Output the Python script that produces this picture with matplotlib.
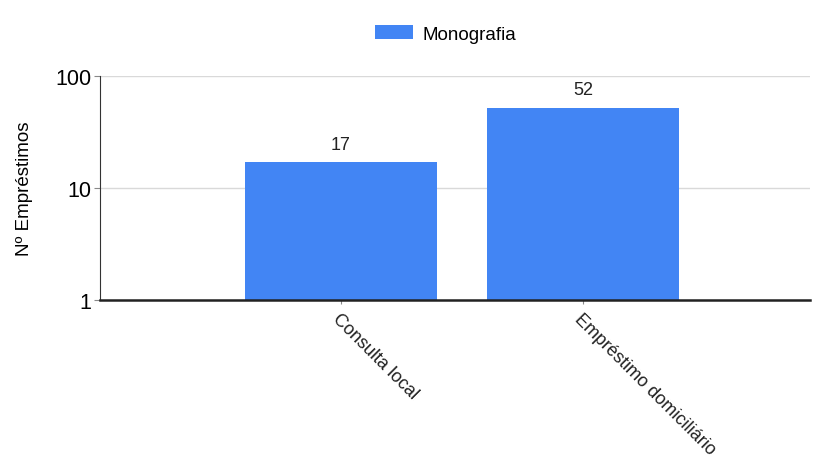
import matplotlib.pyplot as plt
import numpy as np

plt.rcParams['font.family'] = ['Liberation Sans', 'DejaVu Sans']

categories = ['Consulta local', 'Empréstimo domiciliário']
values = [17, 52]
series_name = 'Monografia'

fig = plt.figure(figsize=(8.15, 4.6), dpi=100)
ax = fig.add_axes([0.1227, 0.3457, 0.8713, 0.4869])

x_pos = np.arange(len(categories))
bars = ax.bar(x_pos, values, width=0.79, color='#4285f4', label=series_name, zorder=2)

ax.set_yscale('log')
ax.set_ylim(1, 100)
ax.set_xlim(-0.996, 1.938)
ax.set_yticks([1, 10, 100])
ax.set_yticklabels(['1', '10', '100'], fontsize=15.5)
ax.minorticks_off()
ax.yaxis.grid(True, color='#d9d9d9', linewidth=1, zorder=0)

ax.set_xticks(x_pos)
ax.set_xticklabels(categories, rotation=-45, ha='left', va='top',
                   rotation_mode='anchor', fontsize=13, color='#222222')
ax.tick_params(axis='x', length=3, color='#888888', pad=4)
ax.tick_params(axis='y', length=4, color='#888888', pad=2)

for b, v in zip(bars, values):
    ax.text(b.get_x() + b.get_width() / 2, v * 1.22, str(v),
            ha='center', va='bottom', fontsize=13, color='#222222')

ax.set_ylabel('Nº Empréstimos', fontsize=13.5, labelpad=16)

for s in ['top', 'right']:
    ax.spines[s].set_visible(False)
ax.spines['left'].set_color('#333333')
ax.spines['bottom'].set_color('#222222')
ax.spines['bottom'].set_linewidth(1.8)
ax.spines['bottom'].set_zorder(3)

fig.legend(loc='upper center', bbox_to_anchor=(0.547, 0.98), frameon=False,
           fontsize=13.5, handlelength=2.0, handleheight=0.8, handletextpad=0.5)

plt.savefig('out.png')
